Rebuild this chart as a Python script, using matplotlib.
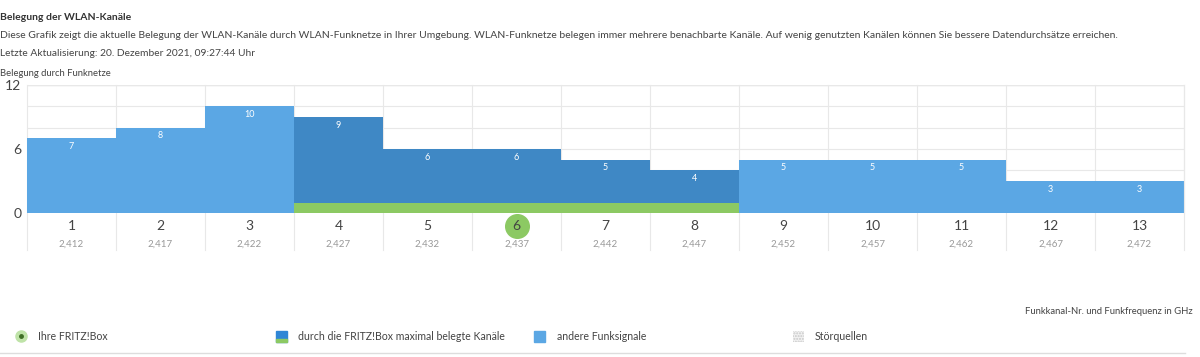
import numpy as np
from matplotlib import pyplot as plt
from matplotlib.patches import Rectangle

channels = list(range(1, 14))
freqs = ['2,412', '2,417', '2,422', '2,427', '2,432', '2,437', '2,442',
         '2,447', '2,452', '2,457', '2,462', '2,467', '2,472']
values = [7, 8, 10, 9, 6, 6, 5, 4, 5, 5, 5, 3, 3]
own_span = [4, 5, 6, 7, 8]      # channels the box occupies
own_channel = 6
own_strip = 0.9                  # height of the green strip

light_blue = '#5ba7e4'
dark_blue = '#3f88c5'
green = '#8cc963'
grid_c = '#e8e8e8'
txt_c = '#444444'

plt.rcParams['font.family'] = ['Lato', 'DejaVu Sans']

fig = plt.figure(figsize=(12, 3.57), dpi=100)
ax = fig.add_axes([0.0225, 0.4034, 0.9642, 0.3585])

x = np.array(channels)
cols = [dark_blue if c in own_span else light_blue for c in channels]
ax.bar(x, values, width=1.0, color=cols, linewidth=0, zorder=2)
ax.bar(own_span, [own_strip] * len(own_span), width=1.0, color=green,
       linewidth=0, zorder=3)

for xi, v in zip(x, values):
    ax.annotate(str(v), (xi, v), xytext=(0, -6), textcoords='offset points',
                ha='center', va='center', color='white', fontsize=6.5,
                zorder=4)

ax.set_xlim(0.5, 13.5)
ax.set_ylim(0, 12)
ax.set_yticks([0, 6, 12])
ax.set_yticks([2, 4, 8, 10], minor=True)
ax.tick_params(axis='y', which='both', length=0, labelsize=10,
               labelcolor=txt_c, pad=4)
ax.yaxis.grid(True, which='both', color=grid_c, linewidth=0.8, zorder=0)
ax.set_xticks([])
for s in ['left', 'bottom', 'top']:
    ax.spines[s].set_visible(False)
ax.spines['right'].set_color(grid_c)
ax.axhline(12, color='#dddddd', linewidth=1, zorder=1)

# column separators reaching into the label area
for b in np.arange(0.5, 14.0, 1.0):
    ax.axvline(b, ymin=-0.29, ymax=1, color=grid_c, linewidth=0.8,
               clip_on=False, zorder=1)

for xi, c, f in zip(x, channels, freqs):
    if c == own_channel:
        ax.plot(xi, -1.25, 'o', markersize=17, color=green, clip_on=False,
                zorder=2)
    ax.text(xi, -1.25, str(c), ha='center', va='center', fontsize=10,
            color=txt_c, zorder=3)
    ax.text(xi, -2.9, f, ha='center', va='center', fontsize=7,
            color='#999999')

# header texts
fig.text(0.0, 1 - 17 / 357, 'Belegung der WLAN-Kanäle', fontsize=7.45,
         fontweight='bold', color='#333333', va='center')
fig.text(0.0, 1 - 36 / 357,
         'Diese Grafik zeigt die aktuelle Belegung der WLAN-Kanäle durch '
         'WLAN-Funknetze in Ihrer Umgebung. WLAN-Funknetze belegen immer '
         'mehrere benachbarte Kanäle. Auf wenig genutzten Kanälen können Sie '
         'bessere Datendurchsätze erreichen.',
         fontsize=7.45, color=txt_c, va='center')
fig.text(0.0, 1 - 54 / 357,
         'Letzte Aktualisierung: 20. Dezember 2021, 09:27:44 Uhr',
         fontsize=7.35, color=txt_c, va='center')
fig.text(0.0, 1 - 73 / 357, 'Belegung durch Funknetze', fontsize=6.8,
         color=txt_c, va='center')
fig.text(1193 / 1200, 1 - 312 / 357, 'Funkkanal-Nr. und Funkfrequenz in GHz',
         fontsize=6.8, color=txt_c, ha='right', va='center')

# legend row
ly = 1 - 336 / 357
sq_w = 11 / 1200
sq_h = 11 / 357
fig.add_artist(plt.Line2D([21 / 1200], [ly], marker='o', markersize=8,
                          color='#bfe3a8', transform=fig.transFigure))
fig.add_artist(plt.Line2D([21 / 1200], [ly], marker='o', markersize=2.5,
                          color='#3f6f25', transform=fig.transFigure))
fig.text(38 / 1200, ly, 'Ihre FRITZ!Box', fontsize=7.6, color=txt_c,
         va='center')

fig.add_artist(Rectangle((276 / 1200, ly - sq_h / 2), sq_w, sq_h,
                         color='#2f86d6', transform=fig.transFigure))
fig.add_artist(Rectangle((276 / 1200, ly - sq_h / 2), sq_w, sq_h * 0.25,
                         color=green, transform=fig.transFigure))
fig.text(298 / 1200, ly, 'durch die FRITZ!Box maximal belegte Kanäle',
         fontsize=7.6, color=txt_c, va='center')

fig.add_artist(Rectangle((534 / 1200, ly - sq_h / 2), sq_w, sq_h,
                         color=light_blue, transform=fig.transFigure))
fig.text(557 / 1200, ly, 'andere Funksignale', fontsize=7.6, color=txt_c,
         va='center')

fig.add_artist(Rectangle((793 / 1200, ly - sq_h / 2), sq_w, sq_h,
                         facecolor='#f2f2f2', edgecolor='#c8c8c8',
                         hatch='......', linewidth=0,
                         transform=fig.transFigure))
fig.text(815 / 1200, ly, 'Störquellen', fontsize=7.6, color=txt_c,
         va='center')

fig.add_artist(plt.Line2D([0, 1185 / 1200], [1 - 353 / 357] * 2,
                          color='#dddddd', linewidth=1,
                          transform=fig.transFigure))

fig.savefig('out.png', dpi=100)
